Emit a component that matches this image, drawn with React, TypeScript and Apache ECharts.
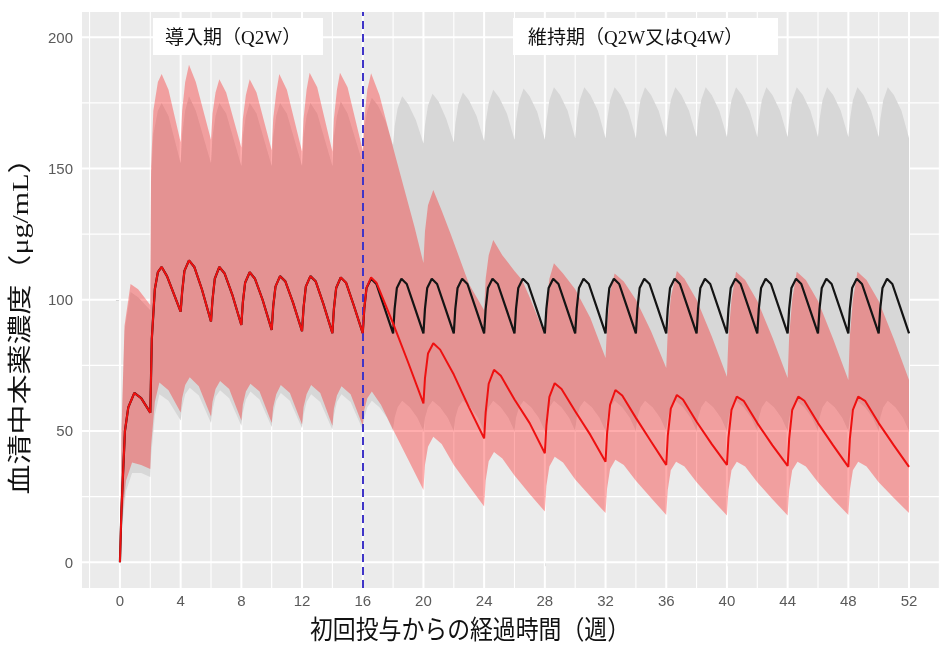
import { useEffect, useRef } from 'react';
import * as echarts from 'echarts';

type P = [number, number];

const xTickValues = [0, 4, 8, 12, 16, 20, 24, 28, 32, 36, 40, 44, 48, 52];
const yTickValues = [0, 50, 100, 150, 200];
const xGridMajor = [0, 4, 8, 12, 16, 20, 24, 28, 32, 36, 40, 44, 48, 52];
const xGridMinor = [-2, 2, 6, 10, 14, 18, 22, 26, 30, 34, 38, 42, 46, 50, 54];
const yGridMajor = [0, 50, 100, 150, 200];
const yGridMinor = [25, 75, 125, 175];

const xTitle = '初回投与からの経過時間（週）';
const yTitle = '血清中本薬濃度（μg/mL）';
const phase1Label = '導入期（Q2W）';
const phase2Label = '維持期（Q2W又はQ4W）';
const switchWeek = 16;

// median, shared induction period (Q2W)
const inductionMedian: P[] = [
  [0, 0], [0.1, 20], [0.2, 33], [0.33, 50], [0.55, 59], [0.95, 64.5], [1.4, 62.5], [2, 57],
  [2.1, 85], [2.3, 104], [2.5, 110.5], [2.75, 112.5], [3.1, 109], [3.5, 103], [4, 95.5],
  [4.1, 103], [4.25, 111], [4.55, 115], [4.9, 112.5], [5.4, 104], [6, 91.7],
  [6.1, 100], [6.25, 108], [6.55, 112.5], [6.9, 110], [7.4, 102], [8, 90.4],
  [8.1, 99], [8.25, 106.5], [8.55, 110.5], [8.9, 108], [9.4, 100], [10, 88.5],
  [10.1, 97.5], [10.25, 105], [10.55, 109], [10.9, 107], [11.4, 99], [12, 88],
  [12.1, 97], [12.25, 105], [12.55, 109], [12.9, 107], [13.4, 98.5], [14, 87.3],
  [14.1, 96.5], [14.25, 104.5], [14.55, 108.5], [14.9, 106.5], [15.4, 98], [16, 87.3],
];

// median, maintenance Q2W (black)
const q2wMaintMedian: P[] = [
  [16.1, 96.5], [16.25, 104.5], [16.55, 108], [16.9, 106], [17.4, 97.5], [18, 87.2],
  [18.1, 96.5], [18.25, 104.5], [18.55, 108], [18.9, 106], [19.4, 97.5], [20, 87.2],
  [20.1, 96.5], [20.25, 104.5], [20.55, 108], [20.9, 106], [21.4, 97.5], [22, 87.2],
  [22.1, 96.5], [22.25, 104.5], [22.55, 108], [22.9, 106], [23.4, 97.5], [24, 87.2],
  [24.1, 96.5], [24.25, 104.5], [24.55, 108], [24.9, 106], [25.4, 97.5], [26, 87.2],
  [26.1, 96.5], [26.25, 104.5], [26.55, 108], [26.9, 106], [27.4, 97.5], [28, 87.2],
  [28.1, 96.5], [28.25, 104.5], [28.55, 108], [28.9, 106], [29.4, 97.5], [30, 87.2],
  [30.1, 96.5], [30.25, 104.5], [30.55, 108], [30.9, 106], [31.4, 97.5], [32, 87.2],
  [32.1, 96.5], [32.25, 104.5], [32.55, 108], [32.9, 106], [33.4, 97.5], [34, 87.2],
  [34.1, 96.5], [34.25, 104.5], [34.55, 108], [34.9, 106], [35.4, 97.5], [36, 87.2],
  [36.1, 96.5], [36.25, 104.5], [36.55, 108], [36.9, 106], [37.4, 97.5], [38, 87.2],
  [38.1, 96.5], [38.25, 104.5], [38.55, 108], [38.9, 106], [39.4, 97.5], [40, 87.2],
  [40.1, 96.5], [40.25, 104.5], [40.55, 108], [40.9, 106], [41.4, 97.5], [42, 87.2],
  [42.1, 96.5], [42.25, 104.5], [42.55, 108], [42.9, 106], [43.4, 97.5], [44, 87.2],
  [44.1, 96.5], [44.25, 104.5], [44.55, 108], [44.9, 106], [45.4, 97.5], [46, 87.2],
  [46.1, 96.5], [46.25, 104.5], [46.55, 108], [46.9, 106], [47.4, 97.5], [48, 87.2],
  [48.1, 96.5], [48.25, 104.5], [48.55, 108], [48.9, 106], [49.4, 97.5], [50, 87.2],
  [50.1, 96.5], [50.25, 104.5], [50.55, 108], [50.9, 106], [51.4, 97.5], [52, 87.2],
];

// median, maintenance Q4W (red)
const q4wMaintMedian: P[] = [
  [16.1, 96.5], [16.25, 104.5], [16.55, 108.5], [16.9, 106.5], [17.4, 99.5], [18, 91], [19, 76], [20, 60.5],
  [20.1, 70], [20.3, 79.5], [20.65, 83.4], [21.1, 81], [22, 71.5], [23, 59], [24, 47.2],
  [24.1, 57], [24.3, 68], [24.65, 73.3], [25.1, 71], [26, 62], [27, 53], [28, 41.5],
  [28.1, 52], [28.3, 63], [28.65, 68.2], [29.1, 66], [30, 57.5], [31, 48.5], [32, 38.3],
  [32.1, 49], [32.3, 60], [32.65, 65.6], [33.1, 63.5], [34, 55], [35, 46], [36, 37.1],
  [36.1, 48], [36.3, 58.5], [36.7, 63.7], [37.1, 62], [38, 53.5], [39, 45], [40, 37.1],
  [40.1, 47.5], [40.3, 58], [40.65, 63.1], [41.1, 61.5], [42, 53], [43, 44.5], [44, 36.7],
  [44.1, 47], [44.3, 58], [44.7, 63.1], [45.1, 61.5], [46, 53], [47, 44.5], [48, 36.3],
  [48.1, 47], [48.3, 58], [48.65, 63.1], [49.1, 61.5], [50, 53], [51, 44.5], [52, 36.3],
];

// Q2W band (grey)
const q2wUpper: P[] = [
  [0, 0], [0.1, 48], [0.3, 88], [0.7, 103], [1.2, 101], [2, 96],
  [2.05, 145], [2.2, 163], [2.5, 172], [2.75, 175], [3.2, 170], [4, 152],
  [4.1, 163], [4.3, 172], [4.55, 177.5], [5, 172], [6, 152],
  [6.1, 162], [6.3, 170], [6.55, 175], [7, 171], [8, 151],
  [8.1, 162], [8.3, 170], [8.55, 175], [9, 171], [10, 151],
  [10.1, 162], [10.3, 170], [10.55, 175], [11, 171], [12, 151],
  [12.1, 162], [12.3, 170], [12.55, 175], [13, 171], [14, 151],
  [14.1, 162], [14.3, 170], [14.55, 175.5], [15, 171], [16, 152],
  [16.1, 165], [16.3, 172], [16.6, 177], [17, 174], [17.5, 168], [18, 159],
  [18.1, 166], [18.3, 173], [18.6, 177.5], [19, 174.5], [19.5, 168.5], [20, 159.5],
  [20.1, 166.5], [20.3, 174], [20.6, 178.5], [21, 175.5], [21.5, 169], [22, 160],
  [22.1, 167], [22.3, 174.5], [22.6, 179], [23, 176], [23.5, 170], [24, 160.5],
  [24.1, 167.5], [24.3, 175], [24.6, 180], [25, 177], [25.5, 171], [26, 161],
  [26.1, 168], [26.3, 175.5], [26.6, 180.5], [27, 177.5], [27.5, 171.5], [28, 161],
  [28.1, 168], [28.3, 176], [28.6, 181], [29, 178], [29.5, 172], [30, 161.5],
  [30.1, 168], [30.3, 176], [30.6, 181], [31, 178], [31.5, 172], [32, 161.5],
  [32.1, 168], [32.3, 176], [32.6, 181], [33, 178], [33.5, 172], [34, 161.5],
  [34.1, 168], [34.3, 176], [34.6, 181], [35, 178], [35.5, 172], [36, 162],
  [36.1, 168.5], [36.3, 176], [36.6, 181], [37, 178], [37.5, 172], [38, 162],
  [38.1, 168.5], [38.3, 176], [38.6, 181], [39, 178], [39.5, 172], [40, 162],
  [40.1, 168.5], [40.3, 176], [40.6, 181], [41, 178], [41.5, 172], [42, 162],
  [42.1, 168.5], [42.3, 176], [42.6, 181], [43, 178], [43.5, 172], [44, 162],
  [44.1, 168.5], [44.3, 176], [44.6, 181], [45, 178], [45.5, 172], [46, 162],
  [46.1, 168.5], [46.3, 176], [46.6, 181], [47, 178], [47.5, 172], [48, 162],
  [48.1, 168.5], [48.3, 176], [48.6, 181], [49, 178], [49.5, 172], [50, 162],
  [50.1, 168.5], [50.3, 176], [50.6, 181], [51, 178], [51.5, 172], [52, 161.5],
];

const q2wLower: P[] = [
  [0, 0], [0.15, 14], [0.4, 27], [0.8, 34], [1.4, 34], [2, 32.5],
  [2.05, 40], [2.3, 56], [2.6, 64], [3.2, 61.5], [4, 54],
  [4.1, 59], [4.3, 64], [4.6, 66.5], [5.2, 63.5], [6, 53],
  [6.1, 58], [6.3, 63], [6.6, 65.5], [7.2, 62.5], [8, 52],
  [8.1, 57], [8.3, 62], [8.6, 65], [9.2, 62], [10, 51.5],
  [10.1, 56.5], [10.3, 61.5], [10.6, 64.5], [11.2, 61.5], [12, 51],
  [12.1, 56], [12.3, 61], [12.6, 64], [13.2, 61], [14, 50.5],
  [14.1, 56], [14.3, 61], [14.6, 64], [15.2, 61], [16, 50.5],
  [16.1, 55], [16.3, 59], [16.6, 61.5], [17.1, 59], [17.6, 55], [18, 50],
  [18.1, 55], [18.3, 59], [18.6, 61.5], [19.1, 59], [19.6, 55], [20, 50],
  [20.1, 55], [20.3, 59], [20.6, 61.5], [21.1, 59], [21.6, 55], [22, 50],
  [22.1, 55], [22.3, 59], [22.6, 61.5], [23.1, 59], [23.6, 55], [24, 50],
  [24.1, 55], [24.3, 59], [24.6, 61.5], [25.1, 59], [25.6, 55], [26, 50],
  [26.1, 55], [26.3, 59], [26.6, 61.5], [27.1, 59], [27.6, 55], [28, 50],
  [28.1, 55], [28.3, 59], [28.6, 61.5], [29.1, 59], [29.6, 55], [30, 50],
  [30.1, 55], [30.3, 59], [30.6, 61.5], [31.1, 59], [31.6, 55], [32, 50],
  [32.1, 55], [32.3, 59], [32.6, 61.5], [33.1, 59], [33.6, 55], [34, 50],
  [34.1, 55], [34.3, 59], [34.6, 61.5], [35.1, 59], [35.6, 55], [36, 50],
  [36.1, 55], [36.3, 59], [36.6, 61.5], [37.1, 59], [37.6, 55], [38, 50],
  [38.1, 55], [38.3, 59], [38.6, 61.5], [39.1, 59], [39.6, 55], [40, 50],
  [40.1, 55], [40.3, 59], [40.6, 61.5], [41.1, 59], [41.6, 55], [42, 50],
  [42.1, 55], [42.3, 59], [42.6, 61.5], [43.1, 59], [43.6, 55], [44, 50],
  [44.1, 55], [44.3, 59], [44.6, 61.5], [45.1, 59], [45.6, 55], [46, 50],
  [46.1, 55], [46.3, 59], [46.6, 61.5], [47.1, 59], [47.6, 55], [48, 50],
  [48.1, 55], [48.3, 59], [48.6, 61.5], [49.1, 59], [49.6, 55], [50, 50],
  [50.1, 55], [50.3, 59], [50.6, 61.5], [51.1, 59], [51.6, 55], [52, 50],
];

// Q4W band (red)
const q4wUpper: P[] = [
  [0, 0], [0.1, 50], [0.3, 90], [0.7, 106], [1.2, 104], [2, 98],
  [2.05, 150], [2.2, 172], [2.5, 183], [2.75, 186], [3.2, 180], [4, 160],
  [4.1, 172], [4.3, 183], [4.55, 189.5], [5, 183], [6, 161],
  [6.1, 171], [6.3, 179], [6.55, 184], [7, 179], [8, 158],
  [8.1, 169], [8.3, 178], [8.55, 184], [9, 179], [10, 157],
  [10.1, 169], [10.3, 179], [10.5, 186], [11, 180], [12, 156.5],
  [12.1, 169], [12.3, 180], [12.5, 186.5], [13, 181], [14, 156.5],
  [14.1, 169], [14.3, 180], [14.5, 186.5], [15, 181], [16, 157],
  [16.1, 169], [16.3, 180], [16.55, 186.3], [17.1, 178], [18, 158], [18.7, 143], [19.4, 128], [20, 114],
  [20.1, 126], [20.3, 136], [20.65, 141.8], [21.2, 134], [21.8, 125], [23, 106], [24, 96],
  [24.1, 108], [24.3, 117], [24.6, 122.8], [25.2, 117], [26, 111], [26.5, 107.5], [27, 101], [28, 86.6],
  [28.1, 98], [28.3, 108], [28.6, 113.9], [29.2, 110], [30, 104], [31, 93], [32, 77.8],
  [32.1, 90], [32.3, 103], [32.6, 110], [33.2, 107], [34, 100], [35, 88], [36, 74],
  [36.1, 88], [36.3, 101], [36.7, 111], [37.2, 108], [38, 100], [39, 86], [40, 70.7],
  [40.1, 86], [40.3, 100], [40.6, 110.7], [41.2, 107.5], [42, 99.5], [43, 85.5], [44, 70.2],
  [44.1, 86], [44.3, 100], [44.6, 110.7], [45.2, 107.5], [46, 99.5], [47, 85], [48, 69.4],
  [48.1, 86], [48.3, 100], [48.6, 110.7], [49.2, 107.5], [50, 99.5], [51, 85], [52, 69.4],
];

const q4wLower: P[] = [
  [0, 0], [0.15, 17], [0.4, 31], [0.8, 38], [1.4, 37], [2, 35.5],
  [2.05, 44], [2.3, 61], [2.6, 68.5], [3.2, 65.5], [4, 57],
  [4.1, 62.5], [4.3, 67.5], [4.6, 70.5], [5.2, 67], [6, 55.5],
  [6.1, 61], [6.3, 66], [6.6, 69], [7.2, 66], [8, 54],
  [8.1, 60], [8.3, 65], [8.6, 68], [9.2, 65], [10, 53],
  [10.1, 59], [10.3, 64], [10.6, 67.5], [11.2, 64.5], [12, 52.5],
  [12.1, 59], [12.3, 64], [12.6, 67.5], [13.2, 64.5], [14, 52],
  [14.1, 58.5], [14.3, 63.5], [14.6, 67], [15.2, 64], [16, 52],
  [16.1, 58], [16.3, 62.5], [16.6, 65], [17.2, 60], [18, 50.5], [19, 39], [20, 27.5],
  [20.1, 37], [20.3, 44], [20.65, 47.8], [21.2, 45], [22, 37], [23, 29], [24, 21.2],
  [24.1, 31], [24.3, 38.5], [24.65, 42], [25.2, 39.5], [26, 33], [27, 26], [28, 19.3],
  [28.1, 29], [28.3, 36.5], [28.65, 40.2], [29.2, 38], [30, 31.5], [31, 25], [32, 18.7],
  [32.1, 28], [32.3, 35.5], [32.65, 39], [33.2, 37], [34, 31], [35, 24.5], [36, 18],
  [36.1, 27.5], [36.3, 35], [36.65, 38.3], [37.2, 36.5], [38, 30.5], [39, 24], [40, 17.8],
  [40.1, 27.5], [40.3, 35], [40.65, 38.3], [41.2, 36.5], [42, 30.5], [43, 24], [44, 17.8],
  [44.1, 27.5], [44.3, 35], [44.65, 38.3], [45.2, 36.5], [46, 30.5], [47, 24], [48, 18],
  [48.1, 27.5], [48.3, 35], [48.65, 38.3], [49.2, 36.5], [50, 30.5], [51, 24.5], [52, 18.7],
];

const X_MIN = -2.5;
const X_MAX = 54.04;
const Y_MIN = -9.83;
const Y_MAX = 209.64;

const serif = '"Liberation Serif", "Noto Sans CJK JP", serif';

function bandSeries(upper: P[], lower: P[], fill: string, z: number) {
  return {
    type: 'custom',
    z,
    silent: true,
    clip: true,
    data: [[0, 0]],
    encode: { x: 0, y: 1 },
    renderItem: (_params: any, api: any) => {
      const pts = upper.map((p) => api.coord(p)).concat(lower.slice().reverse().map((p) => api.coord(p)));
      return { type: 'polygon', shape: { points: pts }, style: { fill } };
    },
  };
}

function gridSeries() {
  return {
    type: 'custom',
    z: 1,
    silent: true,
    data: [[0, 0]],
    encode: { x: 0, y: 1 },
    renderItem: (params: any, api: any) => {
      const cs = params.coordSys;
      const children: any[] = [];
      const vline = (v: number, w: number) => {
        const x = api.coord([v, 0])[0];
        children.push({ type: 'line', shape: { x1: x, y1: cs.y, x2: x, y2: cs.y + cs.height }, style: { stroke: '#ffffff', lineWidth: w } });
      };
      const hline = (v: number, w: number) => {
        const y = api.coord([0, v])[1];
        children.push({ type: 'line', shape: { x1: cs.x, y1: y, x2: cs.x + cs.width, y2: y }, style: { stroke: '#ffffff', lineWidth: w } });
      };
      xGridMinor.forEach((v) => vline(v, 1.1));
      yGridMinor.forEach((v) => hline(v, 1.1));
      xGridMajor.forEach((v) => vline(v, 2));
      yGridMajor.forEach((v) => hline(v, 2));
      return { type: 'group', children };
    },
  };
}

export default function App() {
  const ref = useRef<HTMLDivElement>(null);
  useEffect(() => {
    if (!ref.current) return;
    const chart = echarts.init(ref.current, null, { renderer: 'svg' });
    const tickLabel = { fontSize: 15, color: '#5a5a5a', fontFamily: '"Liberation Sans", Arial, sans-serif' };
    chart.setOption({
      animation: false,
      grid: { left: 82, right: 0, top: 12, bottom: 58, show: true, backgroundColor: '#EBEBEB', borderWidth: 0 },
      xAxis: {
        type: 'value', min: X_MIN, max: X_MAX,
        axisLine: { show: false },
        axisTick: { show: true, length: 4, customValues: xTickValues, lineStyle: { color: '#555', width: 1 } },
        axisLabel: { ...tickLabel, margin: 5, customValues: xTickValues },
        splitLine: { show: false },
      },
      yAxis: {
        type: 'value', min: Y_MIN, max: Y_MAX,
        axisLine: { show: false },
        axisTick: { show: true, length: 4, customValues: yTickValues, lineStyle: { color: '#555', width: 1 } },
        axisLabel: { ...tickLabel, margin: 9, customValues: yTickValues },
        splitLine: { show: false },
      },
      series: [
        gridSeries(),
        bandSeries(q2wUpper, q2wLower, '#D7D7D7', 2),
        bandSeries(q4wUpper, q4wLower, 'rgba(255,0,0,0.32)', 3),
        {
          type: 'line', z: 4, silent: true, showSymbol: false, clip: true,
          data: inductionMedian.concat(q2wMaintMedian),
          lineStyle: { color: '#141414', width: 2.2 },
          markLine: {
            silent: true, symbol: ['none', 'none'], label: { show: false },
            lineStyle: { color: '#4035C8', width: 2, type: [8, 5] },
            data: [{ xAxis: switchWeek }],
          },
        },
        {
          type: 'line', z: 5, silent: true, showSymbol: false, clip: true,
          data: inductionMedian.concat(q4wMaintMedian),
          lineStyle: { color: '#EE1010', width: 2 },
        },
      ],
      graphic: [
        { type: 'rect', z: 100, shape: { x: 153, y: 18, width: 170, height: 37 }, style: { fill: '#ffffff' } },
        { type: 'text', z: 101, x: 165, y: 37, style: { text: phase1Label, fontSize: 19, fontFamily: serif, fill: '#111', align: 'left', verticalAlign: 'middle' } },
        { type: 'rect', z: 100, shape: { x: 513, y: 18, width: 265, height: 37 }, style: { fill: '#ffffff' } },
        { type: 'text', z: 101, x: 528, y: 37, style: { text: phase2Label, fontSize: 19, fontFamily: serif, fill: '#111', align: 'left', verticalAlign: 'middle' } },
        { type: 'text', z: 101, x: 470, y: 630, scaleX: 0.88, style: { text: xTitle, fontSize: 26, fontFamily: serif, fill: '#111', align: 'center', verticalAlign: 'middle' } },
        { type: 'text', z: 101, x: 20, y: 319, rotation: Math.PI / 2, scaleY: 0.78, style: { text: yTitle, fontSize: 30, fontFamily: serif, fill: '#111', align: 'center', verticalAlign: 'middle' } },
      ],
    });
    return () => chart.dispose();
  }, []);
  return <div ref={ref} style={{ position: 'fixed', left: 0, top: 0, width: 940, height: 646 }} />;
}
